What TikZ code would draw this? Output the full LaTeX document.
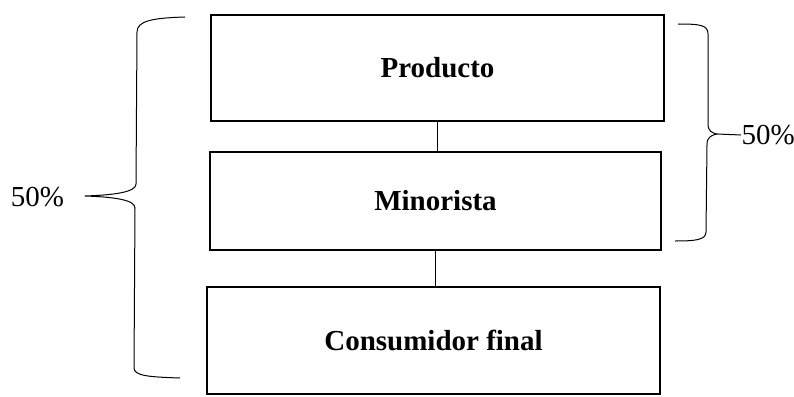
\documentclass[tikz,border=0pt]{standalone}
\usepackage{fontspec}
\setmainfont{Liberation Serif}
\begin{document}
\begin{tikzpicture}[x=1pt,y=-1pt,line width=1.1pt,
  box/.style={draw, inner sep=0pt, font=\fontsize{29}{34}\selectfont\bfseries},
  pct/.style={inner sep=0pt, font=\fontsize{29}{34}\selectfont},
  bracepath/.style={line width=1pt, line join=round}]
\useasboundingbox (0,0) rectangle (794,396);
% boxes
\node[box, minimum width=453pt, minimum height=106pt] (prod) at (437.5,68) {Producto};
\node[box, minimum width=451pt, minimum height=98pt] (mino) at (435.5,201) {Minorista};
\node[box, minimum width=453pt, minimum height=107pt] (cons) at (433.5,340.5) {Consumidor final};
% connectors
\draw (prod.south) -- (prod.south |- mino.north);
\draw (mino.south) -- (mino.south |- cons.north);
% labels
\node[pct, anchor=center] (lblL) at (37.5,197) {50\%};
\node[pct, anchor=west] (lblR) at (741,135) {50\%};
% coordinates of the brace tips
\coordinate (tipL) at (85,196);
\coordinate (tipR) at (717,134);
% left brace
\draw[bracepath] (185,17) .. controls (152,18) and (137,21) .. (137,32)
  -- (136,184) .. controls (136,192) and (115,195) .. (tipL)
  .. controls (115,197) and (135,200) .. (135,208)
  -- (134,368) .. controls (134,376) and (150,377) .. (180,378);
% right brace
\draw[bracepath] (678,24) .. controls (700,24) and (708,25) .. (708,34)
  -- (708,124) .. controls (708,131) and (712,133) .. (tipR)
  .. controls (712,135) and (707,137) .. (707,144)
  -- (706,232) .. controls (706,240) and (695,241) .. (675,241);
\draw[bracepath] (tipR) -- (lblR.west);
\end{tikzpicture}
\end{document}
